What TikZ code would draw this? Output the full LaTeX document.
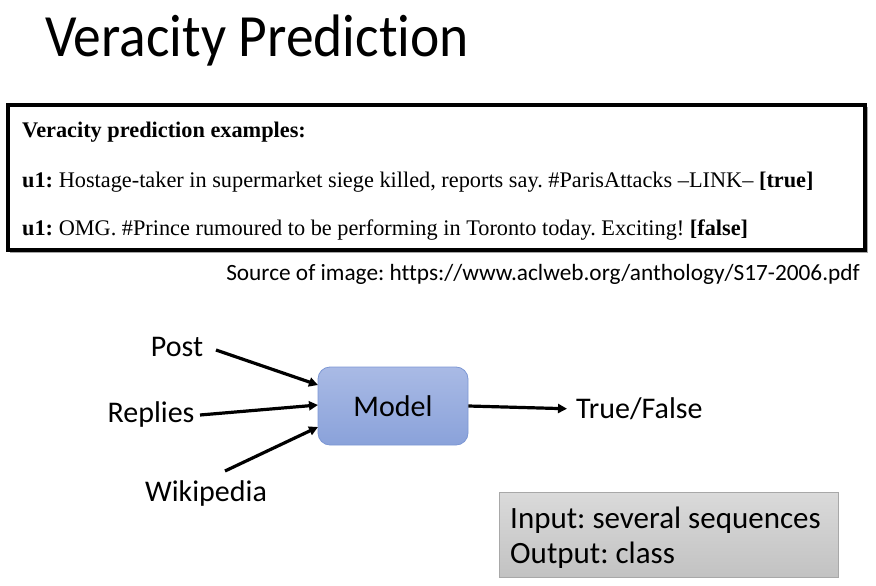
\documentclass[tikz,border=0pt]{standalone}
\usepackage{fontspec}
\setmainfont{Carlito}[Ligatures=NoCommon]
\newfontfamily\timesfont{Liberation Serif}
\usetikzlibrary{arrows.meta}
\definecolor{modeltop}{HTML}{A9BAE5}
\definecolor{modelbot}{HTML}{8AA2DA}
\definecolor{modelline}{HTML}{7C97D4}
\definecolor{graytop}{HTML}{DADADA}
\definecolor{graybot}{HTML}{C2C2C2}
\definecolor{grayline}{HTML}{A8A8A8}
\frenchspacing
\begin{document}
\begin{tikzpicture}[x=1pt,y=-1pt,
  lbl/.style={font=\fontsize{30}{36}\selectfont, inner sep=0pt},
  conn/.style={line width=3.2pt, -{Triangle[length=9pt,width=9pt]}},
  exline/.style={anchor=base west, inner sep=0pt, font=\timesfont\fontsize{22.3}{27}\selectfont}]
\useasboundingbox (0,0) rectangle (876,586);
% title
\node[anchor=base west, inner sep=0pt, font=\fontsize{55.5}{66}\selectfont, yscale=1.08] (title) at (45,56) {Veracity Prediction};
% example box
\fill[black!35] (10,107) rectangle (868,253);
\draw[line width=3.5pt, fill=white] (8,105) rectangle (865,250);
\node[exline] (hdr) at (22,137) {\bfseries Veracity prediction examples:};
\node[exline] (l1) at (22,187) {\textbf{u1:} Hostage-taker in supermarket siege killed, reports say. \#ParisAttacks –LINK– \textbf{[true]}};
\node[exline] (l2) at (22,235) {\textbf{u1:} OMG. \#Prince rumoured to be performing in Toronto today. Exciting! \textbf{[false]}};
\node[anchor=base east, inner sep=0pt, font=\fontsize{23.3}{28}\selectfont] (src) at (860,280) {Source of image: https://www.aclweb.org/anthology/S17-2006.pdf};
% diagram
\node[draw=modelline, line width=0.8pt, rounded corners=12pt, top color=modeltop, bottom color=modelbot,
  minimum width=150pt, minimum height=78pt, lbl] (model) at (393,406) {Model};
\node[lbl] (post) at (177,347) {Post};
\node[lbl] (replies) at (151,414) {Replies};
\node[lbl] (wiki) at (206,493) {Wikipedia};
\node[lbl, anchor=west] (tf) at (576,409) {True/False};
\coordinate (pA) at (216,350);
\coordinate (rA) at (200,415);
\coordinate (wA) at (225,471);
\coordinate (mP) at (318,385);
\coordinate (mR) at (318,405);
\coordinate (mW) at (318,427);
\draw[conn] (pA) -- (mP);
\draw[conn] (rA) -- (mR);
\draw[conn] (wA) -- (mW);
\draw[conn, shorten >=9pt] (model.east) -- (tf.west);
% gray box
\node[draw=grayline, line width=0.8pt, top color=graytop, bottom color=graybot,
  minimum width=339pt, minimum height=85pt, anchor=north west] (info) at (499,492) {};
\node[anchor=base west, inner sep=0pt, font=\fontsize{31}{37}\selectfont] (in) at (510,528) {Input: several sequences};
\node[anchor=base west, inner sep=0pt, font=\fontsize{31}{37}\selectfont] (out) at (510,563) {Output: class};
\end{tikzpicture}
\end{document}
